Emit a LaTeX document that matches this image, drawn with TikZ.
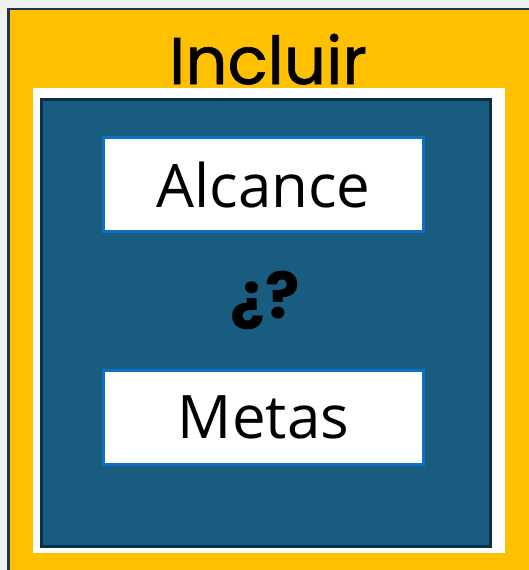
\documentclass[tikz,border=0pt]{standalone}
\usepackage{fontspec}
\newfontfamily\titlefont{Poppins}
\newfontfamily\titlemedium[FakeBold=1]{Poppins}
\newfontfamily\boxfont{Open Sans}
\definecolor{bggray}{HTML}{F0F0F0}
\definecolor{gold}{HTML}{FFC000}
\definecolor{navy}{HTML}{1F3556}
\definecolor{teal}{HTML}{185D7F}
\definecolor{tealedge}{HTML}{0D2F45}
\definecolor{boxblue}{HTML}{0F6FC6}
\tikzset{
  labelbox/.style={draw=boxblue, line width=2.5pt, fill=white, minimum width=320pt, minimum height=94pt, inner sep=0pt, font=\boxfont\fontsize{60}{64}\selectfont},
}
\begin{document}
\begin{tikzpicture}[x=1pt,y=-1pt]
\useasboundingbox (0,0) rectangle (529,570);
\fill[bggray] (0,0) rectangle (529,570);
\path[fill=gold, draw=navy, line width=2.5pt] (8.5,9) rectangle (535,580);
\fill[white] (33,88) rectangle (505,553);
\path[fill=teal, draw=tealedge, line width=3pt] (41.5,99.5) rectangle (490.5,546.5);
\node[font=\titlemedium\fontsize{66}{70}\selectfont, anchor=base] (title) at (268,84) {Incluir};
\node[labelbox] (alcance) at (263.5,184.5) {Alcance};
\node[labelbox] (metas) at (263.5,417.5) {Metas};
\node[font=\titlefont\bfseries\fontsize{64}{70}\selectfont] (q) at (265,300) {¿?};
\end{tikzpicture}
\end{document}
